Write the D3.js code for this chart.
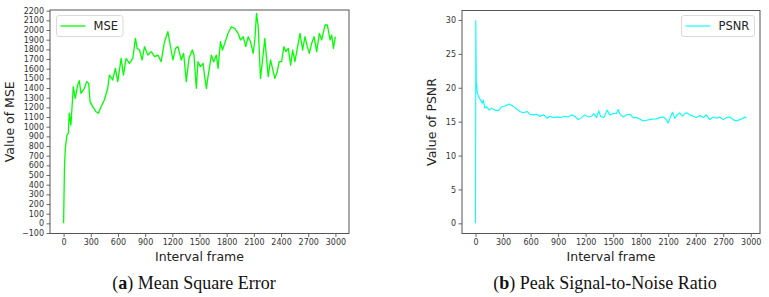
<!DOCTYPE html>
<html><head><meta charset="utf-8">
<script src="https://cdn.jsdelivr.net/npm/d3@7"></script>
<style>
body{margin:0;background:#fff;}
svg{display:block;}
</style></head>
<body>
<svg id="chart" width="769" height="297"></svg>
<script>
// ---------- data ----------
const mseFrames = [0,10,20,37,52,63,81,107,129,155,173,192,229,255,277,292,321,358,384,413,450,487,506,542,572,598,635,661,690,727,764,793,812,838,867,893,930,967,1004,1041,1077,1114,1151,1177,1207,1236,1262,1299,1325,1354,1384,1421,1439,1465,1483,1509,1539,1557,1576,1594,1631,1657,1686,1705,1731,1753,1779,1815,1852,1889,1926,1952,1982,2011,2037,2063,2092,2111,2129,2148,2173,2196,2221,2240,2258,2284,2314,2332,2358,2380,2406,2432,2454,2480,2506,2528,2553,2583,2609,2638,2664,2690,2712,2738,2764,2793,2823,2849,2886,2911,2941,2959,2978,3000];
const mseValues = [0,600,780,915,930,1140,1017,1414,1293,1431,1476,1345,1397,1466,1448,1259,1207,1155,1138,1207,1276,1397,1534,1483,1603,1466,1707,1534,1707,1655,1707,1914,1810,1793,1690,1828,1741,1776,1724,1741,1672,1879,1983,1845,1690,1810,1828,1690,1759,1466,1707,1793,1741,1397,1672,1621,1655,1517,1397,1517,1741,1672,1741,1603,1879,1793,1862,1966,2034,2017,1966,1897,1931,1828,1931,1879,1759,1897,2172,2034,1500,1690,1914,1707,1517,1690,1569,1500,1569,1672,1672,1828,1776,1810,1638,1793,1672,1828,1966,1793,1931,1828,1759,1862,1931,1776,1966,1897,2052,2052,1897,1948,1810,1931];

const psnrFrames = [0,3,8,18,33,54,73,84,102,120,149,174,211,247,283,320,367,403,439,483,519,563,592,628,665,701,745,781,810,846,883,926,973,1010,1046,1082,1119,1155,1191,1228,1264,1289,1318,1344,1362,1398,1435,1464,1500,1536,1554,1573,1609,1645,1682,1718,1754,1791,1827,1863,1900,1936,1972,2008,2045,2074,2099,2125,2147,2172,2197,2226,2255,2281,2306,2335,2372,2408,2444,2481,2517,2553,2590,2626,2662,2699,2735,2771,2808,2844,2880,2917,2935,2953];
const psnrValues = [0,29.9,20.9,19.4,18.7,18.2,17.7,18.2,17.0,17.2,16.7,17.0,16.7,16.6,17.2,17.3,17.6,17.3,17.0,16.5,16.3,16.5,16.1,16.0,16.1,15.8,16.0,15.5,15.8,15.6,15.7,15.6,15.8,15.7,16.0,15.8,15.3,15.6,16.0,15.7,15.8,16.2,15.6,16.6,15.8,15.6,16.7,16.0,16.2,16.2,16.8,16.2,15.7,16.0,16.1,15.6,15.6,15.4,15.1,15.2,15.3,15.4,15.4,15.6,15.7,15.4,14.8,15.7,16.4,15.5,16.0,16.3,15.8,16.2,16.3,16.0,15.8,15.6,15.9,15.6,16.0,15.3,15.7,15.5,15.7,15.3,15.6,15.7,15.3,15.1,15.3,15.5,15.7,15.5];

const xTicks = [0,300,600,900,1200,1500,1800,2100,2400,2700,3000];
const mseYTicks = d3.range(-100, 2201, 100);
const psnrYTicks = [0,5,10,15,20,25,30];

// ---------- drawing ----------
const svg = d3.select("#chart");
const tickFont = "DejaVu Sans, sans-serif";

function panel(cfg) {
  const g = svg.append("g");
  const x = d3.scaleLinear().domain(cfg.xDomain).range([cfg.left, cfg.right]);
  const y = d3.scaleLinear().domain(cfg.yDomain).range([cfg.bottom, cfg.top]);

  const xAxis = g.append("g").attr("transform", `translate(0,${cfg.bottom})`)
    .call(d3.axisBottom(x).tickValues(cfg.xTicks).tickSize(3.5).tickPadding(2.5).tickFormat(d3.format("d")));
  const yAxis = g.append("g").attr("transform", `translate(${cfg.left},0)`)
    .call(d3.axisLeft(y).tickValues(cfg.yTicks).tickSize(3.5).tickPadding(2.5)
      .tickFormat(d => d < 0 ? "\u2212" + Math.abs(d) : d));
  [xAxis, yAxis].forEach(a => {
    a.select(".domain").remove();
    a.selectAll("line").attr("stroke", "#444").attr("stroke-width", 0.8);
    a.selectAll("text").attr("fill", "#333").style("font-family", tickFont).style("font-size", "8px");
  });

  const data = cfg.frames.map((f, i) => [f, cfg.values[i]]);
  g.append("path").datum(data)
    .attr("fill", "none").attr("stroke", cfg.color).attr("stroke-width", cfg.lw)
    .attr("stroke-linejoin", "round")
    .attr("d", d3.line().x(d => x(d[0])).y(d => y(d[1])));

  g.append("rect").attr("x", cfg.left).attr("y", cfg.top)
    .attr("width", cfg.right - cfg.left).attr("height", cfg.bottom - cfg.top)
    .attr("fill", "none").attr("stroke", "#555").attr("stroke-width", 1);

  // legend
  const L = cfg.legend;
  g.append("rect").attr("x", L.x).attr("y", L.y).attr("width", L.w).attr("height", L.h)
    .attr("rx", 2.5).attr("fill", "#fff").attr("fill-opacity", 0.8)
    .attr("stroke", "#d0d0d0").attr("stroke-width", 0.8);
  g.append("line").attr("x1", L.x + 4).attr("x2", L.x + 29)
    .attr("y1", L.y + L.h / 2).attr("y2", L.y + L.h / 2)
    .attr("stroke", cfg.color).attr("stroke-width", cfg.lw);
  g.append("text").attr("x", L.x + 37).attr("y", L.y + L.h / 2 + 4)
    .attr("fill", "#222").style("font-family", tickFont).style("font-size", "11.5px").text(cfg.name);

  // axis titles
  g.append("text").attr("x", (cfg.left + cfg.right) / 2).attr("y", cfg.bottom + 27)
    .attr("text-anchor", "middle").attr("fill", "#222")
    .style("font-family", tickFont).style("font-size", "12.5px").text("Interval frame");
  g.append("text").attr("transform", `translate(${cfg.yTitleX},${(cfg.top + cfg.bottom) / 2}) rotate(-90)`)
    .attr("text-anchor", "middle").attr("fill", "#222")
    .style("font-family", tickFont).style("font-size", "12.5px").text(cfg.yTitle);

  // caption
  const cap = g.append("text").attr("x", cfg.capX).attr("y", 288.5)
    .attr("text-anchor", "middle").attr("fill", "#111")
    .style("font-family", "Liberation Serif, serif").style("font-size", "18px");
  cap.append("tspan").text("(");
  cap.append("tspan").style("font-weight", "bold").text(cfg.capLetter);
  cap.append("tspan").text(") " + cfg.capText);
}

function padded(frames) {
  const [a, b] = d3.extent(frames);
  const p = (b - a) * 0.05;
  return [a - p, b + p];
}

panel({
  left: 50, right: 349, top: 10, bottom: 233.5,
  xDomain: padded(mseFrames), yDomain: [-105, 2207],
  xTicks: xTicks, yTicks: mseYTicks,
  frames: mseFrames, values: mseValues,
  color: "#00ff00", lw: 1.3, name: "MSE",
  legend: {x: 56.5, y: 15.5, w: 66.5, h: 21},
  yTitle: "Value of MSE", yTitleX: 14,
  capX: 194, capLetter: "a", capText: "Mean Square Error"
});

panel({
  left: 462, right: 760, top: 10.5, bottom: 233.5,
  xDomain: padded(psnrFrames), yDomain: [-1.5, 31.4],
  xTicks: xTicks, yTicks: psnrYTicks,
  frames: psnrFrames, values: psnrValues,
  color: "#00ffff", lw: 1.1, name: "PSNR",
  legend: {x: 681.5, y: 15.5, w: 73, h: 21},
  yTitle: "Value of PSNR", yTitleX: 436,
  capX: 605, capLetter: "b", capText: "Peak Signal-to-Noise Ratio"
});
</script>
</body></html>
